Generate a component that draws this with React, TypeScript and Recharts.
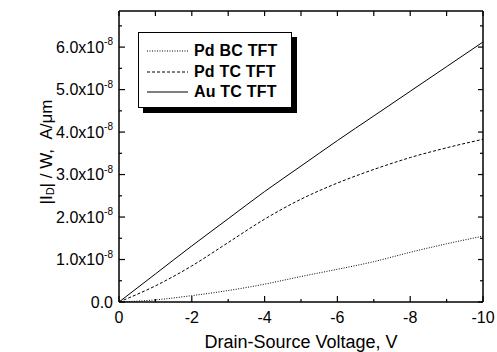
import { LineChart, Line, XAxis, YAxis, Label } from 'recharts';

// drain-source voltage, V
const voltage = [0, -1, -2, -3, -4, -5, -6, -7, -8, -9, -10];
// |I_D| / W in units of 1e-8 A/um
const pdBc = [0, 0.05, 0.15, 0.27, 0.42, 0.6, 0.77, 0.95, 1.17, 1.37, 1.55];
const pdTc = [0, 0.38, 0.85, 1.4, 1.95, 2.42, 2.8, 3.12, 3.4, 3.63, 3.83];
const auTc = [0, 0.66, 1.32, 1.96, 2.6, 3.2, 3.8, 4.38, 4.96, 5.54, 6.12];

const seriesNames = ['Pd BC TFT', 'Pd TC TFT', 'Au TC TFT'];
const seriesKeys = ['pdBc', 'pdTc', 'auTc'];
const seriesDash = ['1 1.5', '3 2', undefined];

const xTicks = [0, -1, -2, -3, -4, -5, -6, -7, -8, -9, -10];
const yTicks = [0, 0.5, 1, 1.5, 2, 2.5, 3, 3.5, 4, 4.5, 5, 5.5, 6, 6.5];

const data = voltage.map((v, i) => ({ v, pdBc: pdBc[i], pdTc: pdTc[i], auTc: auTc[i] }));

const font = 'Liberation Sans, Arial, sans-serif';

const BottomTick = ({ x, y, payload }: any) => {
  const v = payload.value;
  const major = v % 2 === 0;
  return (
    <g>
      <line x1={x} x2={x} y1={y} y2={y - (major ? 6 : 3)} stroke="#000" strokeWidth={1.2} />
      {major && (
        <text x={x} y={y + 15} textAnchor="middle" dominantBaseline="central" fontSize={16} fontFamily={font} fill="#000">
          {v}
        </text>
      )}
    </g>
  );
};

const TopTick = ({ x, y }: any) => (
  <line x1={x} x2={x} y1={y} y2={y + 5} stroke="#000" strokeWidth={1.2} />
);

const LeftTick = ({ x, y, payload }: any) => {
  const v = payload.value;
  const major = Number.isInteger(v);
  return (
    <g>
      <line x1={x} x2={x + (major ? 6 : 3)} y1={y} y2={y} stroke="#000" strokeWidth={1.2} />
      {major && (
        <text x={x - 6} y={y} textAnchor="end" dominantBaseline="central" fontSize={16} fontFamily={font} fill="#000">
          {v === 0 ? (
            '0.0'
          ) : (
            <>
              {v.toFixed(1)}x10
              <tspan fontSize={10} dy={-6}>-8</tspan>
            </>
          )}
        </text>
      )}
    </g>
  );
};

const RightTick = ({ x, y, payload }: any) => {
  const major = Number.isInteger(payload.value);
  return <line x1={x} x2={x - (major ? 5 : 3)} y1={y} y2={y} stroke="#000" strokeWidth={1.2} />;
};

export default function App() {
  return (
    <div style={{ position: 'absolute', left: 0, top: 0, width: 497, height: 352, background: '#fff' }}>
      <LineChart width={497} height={352} data={data} margin={{ top: 10, right: 13, bottom: 0, left: 0 }}>
        <XAxis
          xAxisId="bottom"
          dataKey="v"
          type="number"
          domain={[-10, 0]}
          allowDataOverflow
          reversed
          ticks={xTicks}
          interval={0}
          height={50}
          tickSize={0}
          tickMargin={0}
          tick={<BottomTick />}
          tickLine={false}
          axisLine={{ stroke: '#000', strokeWidth: 1.5 }}
        >
          <Label
            content={() => (
              <text x={301} y={348} textAnchor="middle" fontSize={18} fontFamily={font} fill="#000">
                Drain-Source Voltage, V
              </text>
            )}
          />
        </XAxis>
        <XAxis
          xAxisId="top"
          dataKey="v"
          orientation="top"
          type="number"
          domain={[-10, 0]}
          allowDataOverflow
          reversed
          ticks={xTicks}
          interval={0}
          height={1}
          tickSize={0}
          tickMargin={0}
          tick={<TopTick />}
          tickLine={false}
          axisLine={{ stroke: '#000', strokeWidth: 1.5 }}
        />
        <YAxis
          yAxisId="left"
          type="number"
          domain={[0, 6.85]}
          allowDataOverflow
          ticks={yTicks}
          interval={0}
          width={119}
          tickSize={0}
          tickMargin={0}
          tick={<LeftTick />}
          tickLine={false}
          axisLine={{ stroke: '#000', strokeWidth: 1.5 }}
        >
          <Label
            content={() => (
              <text
                transform="translate(46,152) rotate(-90)"
                textAnchor="middle"
                dominantBaseline="central"
                fontSize={17}
                fontFamily={font}
                fill="#000"
              >
                |I<tspan fontSize={11} dy={4}>D</tspan>
                <tspan dy={-4}>| / W,{'\u00a0\u00a0'}A/μm</tspan>
              </text>
            )}
          />
        </YAxis>
        <YAxis
          yAxisId="right"
          orientation="right"
          type="number"
          domain={[0, 6.85]}
          allowDataOverflow
          ticks={yTicks}
          interval={0}
          width={1}
          tickSize={0}
          tickMargin={0}
          tick={<RightTick />}
          tickLine={false}
          axisLine={{ stroke: '#000', strokeWidth: 1.5 }}
        />
        {seriesKeys.map((k, i) => (
          <Line
            key={k}
            xAxisId="bottom"
            yAxisId="left"
            type="monotone"
            dataKey={k}
            name={seriesNames[i]}
            stroke="#000"
            strokeWidth={1}
            strokeDasharray={seriesDash[i]}
            dot={false}
            isAnimationActive={false}
          />
        ))}
        {/* hidden copy bound to the top/right axes so they are drawn */}
        <Line
          xAxisId="top"
          yAxisId="right"
          dataKey="auTc"
          stroke="none"
          dot={false}
          activeDot={false}
          legendType="none"
          isAnimationActive={false}
        />
      </LineChart>
      <div
        style={{
          position: 'absolute',
          left: 138,
          top: 32,
          width: 152,
          height: 74,
          border: '1px solid #000',
          background: '#fff',
          boxShadow: '5px 5px 0 #000',
          fontFamily: font,
        }}
      >
        {seriesNames.map((name, i) => (
          <div key={name} style={{ position: 'absolute', left: 0, top: 8 + i * 20.5, height: 20, display: 'flex', alignItems: 'center' }}>
            <svg width={50} height={20} style={{ display: 'block' }}>
              <line x1={8} x2={49} y1={10} y2={10} stroke="#000" strokeWidth={1} strokeDasharray={seriesDash[i]} />
            </svg>
            <span style={{ marginLeft: 5, fontSize: 16, fontWeight: 'bold', letterSpacing: 0.2, color: '#000' }}>{name}</span>
          </div>
        ))}
      </div>
    </div>
  );
}
